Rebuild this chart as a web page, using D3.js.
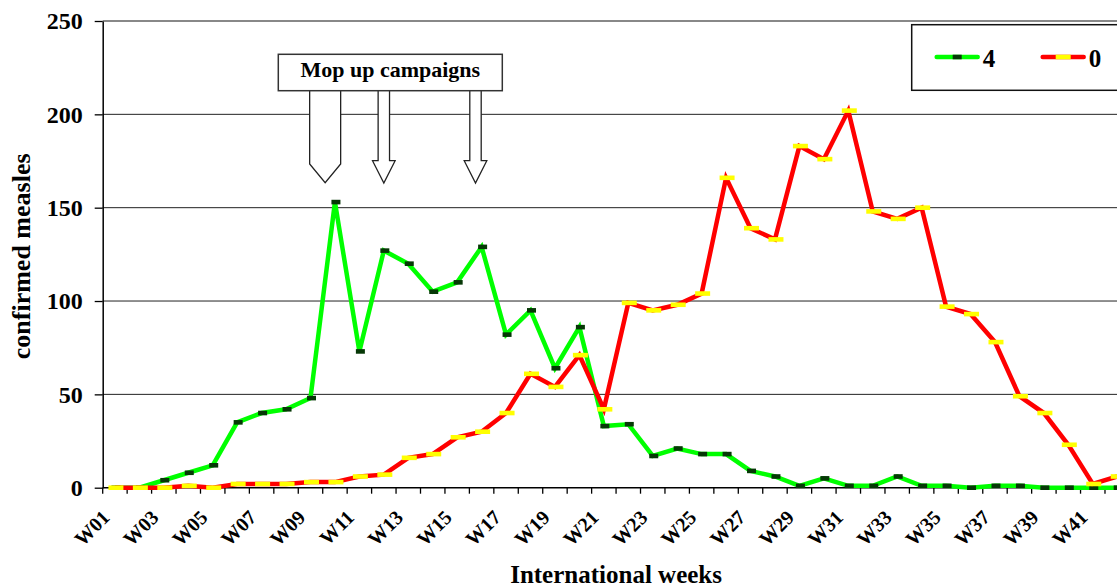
<!DOCTYPE html>
<html>
<head>
<meta charset="utf-8">
<script src="https://cdn.jsdelivr.net/npm/d3@7"></script>
<style>
  body { margin: 0; background: #fff; overflow: hidden; }
  svg text { font-family: "Liberation Serif", "Times New Roman", "DejaVu Serif", serif; font-weight: bold; }
</style>
</head>
<body>
<div id="chart"></div>
<script>
// weekly confirmed measles, two series
const weeks = d3.range(1, 43).map(w => "W" + String(w).padStart(2, "0"));
const series4 = [0, 0, 4, 8, 12, 35, 40, 42, 48, 153, 73, 127, 120, 105, 110, 129, 82, 95, 64, 86,
  33, 34, 17, 21, 18, 18, 9, 6, 1, 5, 1, 1, 6, 1, 1, 0, 1, 1, 0, 0, 0, 0];
const series0 = [0, 0, 0, 1, 0, 2, 2, 2, 3, 3, 6, 7, 16, 18, 27, 30, 40, 61, 54, 71,
  42, 99, 95, 98, 104, 166, 139, 133, 183, 176, 202, 148, 144, 150, 97, 93, 78, 49, 40, 23, 2, 6];
const seriesNames = ["4", "0"];
const yTicks = [0, 50, 100, 150, 200, 250];
const xLabels = weeks.filter((w, i) => i % 2 === 0);
const campaignWeeks = [9.6, 12, 15.75];
const campaignLabel = "Mop up campaigns";

const W = 1117, H = 587;
const plotLeft = 102.7, plotTop = 21, plotBottom = 487.7, step = 24.446;

let svg = d3.select("#chart")
  .append("svg")
  .attr("width", W)
  .attr("height", H);

let x = d3.scaleBand()
  .domain(weeks)
  .range([plotLeft, plotLeft + weeks.length * step]);
let cx = w => x(w) + x.bandwidth() / 2;

// week number -> x, for the annotation arrows
let xw = d3.scaleLinear()
  .domain([1, weeks.length])
  .range([cx(weeks[0]), cx(weeks[weeks.length - 1])]);

let y = d3.scaleLinear()
  .domain([0, 250])
  .range([plotBottom, plotTop]);

// gridlines
svg.append("g")
  .selectAll("line")
  .data(yTicks.filter(v => v > 0))
  .enter()
    .append("line")
    .attr("x1", plotLeft)
    .attr("x2", W)
    .attr("y1", d => y(d))
    .attr("y2", d => y(d))
    .attr("stroke", d => d === 250 ? "#888" : "#222")
    .attr("stroke-width", d => d === 250 ? 2 : 1);

// y axis
let yAxis = svg.append("g")
  .attr("transform", `translate(${plotLeft},0)`)
  .call(d3.axisLeft(y).tickValues(yTicks).tickSize(8).tickSizeOuter(0).tickPadding(12));
yAxis.attr("font-family", null).attr("font-size", null);
yAxis.select(".domain").attr("stroke", "#000").attr("stroke-width", 1.5);
yAxis.selectAll(".tick line").attr("stroke", "#000").attr("stroke-width", 1.3);
yAxis.selectAll("text")
  .style("font-size", "24px")
  .attr("fill", "#000");

// x axis: labels every other week, ticks on band edges
let xAxis = svg.append("g")
  .attr("transform", `translate(0,${plotBottom})`)
  .call(d3.axisBottom(x).tickValues(xLabels).tickSize(0).tickPadding(0));
xAxis.attr("font-family", null).attr("font-size", null);
xAxis.select(".domain").remove();
xAxis.selectAll("text")
  .attr("y", 0)
  .attr("dy", null)
  .attr("text-anchor", "end")
  .attr("transform", "translate(-4,31) rotate(-45)")
  .style("font-size", "20px")
  .attr("fill", "#000");

svg.append("line")
  .attr("x1", plotLeft)
  .attr("x2", W)
  .attr("y1", plotBottom)
  .attr("y2", plotBottom)
  .attr("stroke", "#000")
  .attr("stroke-width", 1.5);

svg.append("g")
  .selectAll("line")
  .data(weeks)
  .enter()
    .append("line")
    .attr("x1", d => x(d))
    .attr("x2", d => x(d))
    .attr("y1", plotBottom)
    .attr("y2", plotBottom + 6)
    .attr("stroke", "#000")
    .attr("stroke-width", 1.3);

// axis titles
svg.append("text")
  .attr("x", (plotLeft + x.range()[1]) / 2)
  .attr("y", 583)
  .attr("text-anchor", "middle")
  .style("font-size", "25px")
  .text("International weeks");

svg.append("text")
  .attr("transform", `translate(30,${(plotTop + plotBottom) / 2 + 2}) rotate(-90)`)
  .attr("text-anchor", "middle")
  .style("font-size", "26px")
  .text("confirmed measles");

// series
let seriesList = [
  { name: seriesNames[0], values: series4, color: "#00ff00", marker: "#063806", mw: 9 },
  { name: seriesNames[1], values: series0, color: "#ff0000", marker: "#ffff00", mw: 15 }
];

let line = d3.line()
  .x((d, i) => cx(weeks[i]))
  .y(d => y(d));

seriesList.forEach(s => {
  let g = svg.append("g");
  g.append("path")
    .datum(s.values)
    .attr("d", line)
    .attr("fill", "none")
    .attr("stroke", s.color)
    .attr("stroke-width", 4.5);
  g.selectAll("rect")
    .data(s.values)
    .enter()
      .append("rect")
      .attr("x", (d, i) => cx(weeks[i]) - s.mw / 2 + 1)
      .attr("y", d => y(d) - 2.3)
      .attr("width", s.mw)
      .attr("height", 4.6)
      .attr("fill", s.marker);
});

// campaign annotation
let ann = svg.append("g");
campaignWeeks.forEach((w, i) => {
  let c = xw(w);
  let pts;
  if (i === 0) {
    pts = [[c - 15.5, 89.5], [c + 15.5, 89.5], [c + 15.5, 164], [c, 182.7], [c - 15.5, 164]];
  } else {
    pts = [[c - 5.7, 89.5], [c + 5.7, 89.5], [c + 5.7, 160.7], [c + 11.3, 160.7],
      [c, 183], [c - 11.3, 160.7], [c - 5.7, 160.7]];
  }
  ann.append("polygon")
    .attr("points", pts.map(p => p.join(",")).join(" "))
    .attr("fill", "#fff")
    .attr("stroke", "#222")
    .attr("stroke-width", 1.3);
});
ann.append("rect")
  .attr("x", 278.3)
  .attr("y", 54.3)
  .attr("width", 224)
  .attr("height", 36.4)
  .attr("fill", "#fff")
  .attr("stroke", "#333")
  .attr("stroke-width", 1.5);
ann.append("text")
  .attr("x", 390.3)
  .attr("y", 77)
  .attr("text-anchor", "middle")
  .style("font-size", "22px")
  .text(campaignLabel);

// legend
let legend = svg.append("g");
legend.append("rect")
  .attr("x", 911.7)
  .attr("y", 24.7)
  .attr("width", 240)
  .attr("height", 65.6)
  .attr("fill", "#fff")
  .attr("stroke", "#111")
  .attr("stroke-width", 1.5);
seriesList.forEach((s, i) => {
  let x0 = 936.7 + i * 106;
  legend.append("line")
    .attr("x1", x0)
    .attr("x2", x0 + 41)
    .attr("y1", 57)
    .attr("y2", 57)
    .attr("stroke", s.color)
    .attr("stroke-width", 4.5)
    .attr("stroke-linecap", "round");
  legend.append("rect")
    .attr("x", x0 + 20.5 - s.mw / 2)
    .attr("y", 57 - 2.3)
    .attr("width", s.mw)
    .attr("height", 4.6)
    .attr("fill", s.marker);
  legend.append("text")
    .attr("x", x0 + 46)
    .attr("y", 66.7)
    .style("font-size", "25px")
    .text(s.name);
});
</script>
</body>
</html>
